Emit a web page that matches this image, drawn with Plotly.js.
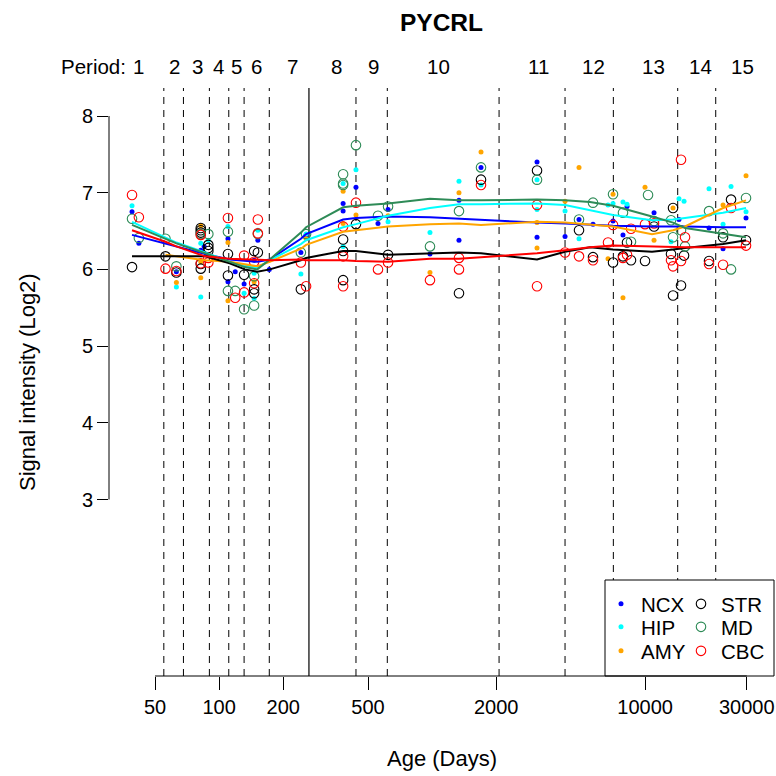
<!DOCTYPE html>
<html><head><meta charset="utf-8">
<script src="https://cdn.plot.ly/plotly-3.0.1.min.js"></script>
<style>body{margin:0;background:#fff}</style>
</head><body>
<div id="chart" style="width:776px;height:776px"></div>
<script>
// ---- data (age in days, signal intensity log2) ----
const regions = ['NCX','HIP','AMY','STR','MD','CBC'];
const ncxAge = [39,42,63,82,85,110,110,119,131,146,152,172,242,256,382,382,439,557,621,977,1337,1337,1696,3108,3108,4207,4893,5692,7068,7870,8222,11010,14420,19950,23215,29760];
const ncxVal = [6.75,6.34,5.97,6.25,6.30,6.40,5.84,5.97,5.81,6.12,6.38,6.00,6.22,6.45,6.86,6.76,7.07,6.60,6.78,6.20,6.90,6.38,7.33,7.40,6.42,6.43,6.65,6.59,6.63,6.45,6.82,6.74,6.65,6.54,6.27,6.67];
const hipAge = [39,63,82,82,89,110,131,146,146,152,242,256,382,382,439,621,977,1337,1696,3108,3108,4207,4893,6695,7068,7870,8222,13230,14420,15230,19950,23215,25310,29760];
const hipVal = [6.83,5.77,6.34,5.64,6.38,6.56,5.69,5.95,5.62,6.51,5.94,6.46,7.12,6.30,7.30,6.62,6.48,7.15,7.10,7.17,6.78,6.76,6.40,6.84,6.86,6.88,6.85,6.36,6.92,6.89,7.05,6.59,7.08,6.75];
const amyAge = [63,82,82,82,110,110,146,256,382,382,439,621,977,1337,1696,3108,3108,4207,4893,6695,7068,7870,9988,11010,13518,23215,29760];
const amyVal = [5.83,6.57,6.10,5.89,6.35,5.59,5.84,6.40,7.02,6.60,6.71,6.70,5.96,7.00,7.53,6.61,6.28,6.89,7.33,6.14,6.98,5.63,7.07,6.38,6.80,6.84,7.22];
const strAge = [39,56,63,82,82,82,82,82,89,89,89,110,110,131,146,146,146,152,242,382,382,382,439,621,1337,1696,3108,4893,5692,7068,7870,8222,8584,9988,11010,13230,13518,13518,14740,15230,19950,23215,25310,29760];
const strVal = [6.03,6.17,5.96,6.54,6.51,6.48,6.07,6.01,6.32,6.28,6.24,6.20,5.92,5.93,6.24,5.74,5.69,6.22,5.74,6.39,6.24,5.86,6.59,6.19,5.69,7.17,7.29,6.51,6.16,6.09,6.17,6.35,6.12,6.11,6.56,6.20,6.80,5.66,5.79,6.18,6.11,6.42,6.91,6.38];
const mdAge = [39,42,56,63,82,89,110,110,119,131,146,146,152,242,256,382,382,382,439,557,621,977,1337,1696,3108,4893,5692,7068,7870,8584,10318,11010,13230,13518,14740,15393,19950,23215,25310,29760];
const mdVal = [6.66,6.41,6.40,6.04,6.46,6.46,6.49,5.72,5.72,5.48,5.91,5.53,6.46,6.22,6.46,7.24,7.12,7.10,7.62,6.70,6.82,6.30,6.76,7.33,7.17,6.65,6.87,6.98,6.74,6.36,6.97,6.63,6.64,6.42,6.51,6.30,6.76,6.47,6.00,6.93];
const cbcAge = [39,42,56,63,82,82,89,89,110,119,131,131,146,146,152,152,242,256,382,382,382,439,557,621,977,1337,1337,1696,3108,3108,4207,4893,5692,6695,7068,7870,8222,8584,9988,11010,13230,13518,14740,14740,15393,19950,23215,25310,29760];
const cbcVal = [6.97,6.68,6.01,5.98,6.45,6.08,6.15,6.09,6.67,5.63,6.18,5.70,6.10,5.82,6.65,6.47,6.09,5.78,6.56,6.17,5.78,6.87,6.00,6.09,5.86,6.15,6.00,7.10,6.84,5.78,6.22,6.17,6.12,6.35,6.58,6.15,6.19,6.53,6.59,6.60,6.12,6.04,7.43,6.11,6.42,6.07,6.06,6.80,6.31];

// smoothed fits
const fitAges = [39,56,63,86,112,132,151,173,242,256,382,439,621,977,1337,1696,3108,4207,5512,7068,10773,13518,15393,23215,29760];
const ncxFit = [6.45,6.34,6.30,6.20,6.13,6.11,6.10,6.13,6.40,6.46,6.65,6.67,6.69,6.68,6.66,6.64,6.61,6.60,6.58,6.57,6.56,6.56,6.56,6.55,6.55];
const hipFit = [6.62,6.41,6.35,6.22,6.10,6.05,6.02,6.12,6.33,6.38,6.55,6.59,6.70,6.80,6.85,6.85,6.86,6.84,6.77,6.71,6.64,6.65,6.67,6.74,6.80];
const amyFit = [null,6.19,6.17,6.12,6.10,6.07,6.04,6.10,6.27,6.32,6.49,6.51,6.56,6.59,6.60,6.58,6.62,6.61,6.58,6.56,6.46,6.51,6.56,6.80,6.90];
const strFit = [6.17,6.17,6.17,6.17,6.08,6.00,5.97,6.00,6.12,6.15,6.24,6.24,6.19,6.21,6.22,6.21,6.13,6.23,6.29,6.26,6.23,6.26,6.28,6.33,6.38];
const mdFit  = [6.58,6.40,6.34,6.21,6.10,6.03,6.00,6.13,6.48,6.55,6.81,6.83,6.86,6.92,6.90,6.90,6.91,6.90,6.88,6.83,6.69,6.61,6.54,6.46,6.42];
const cbcFit = [6.51,6.36,6.30,6.17,6.14,6.13,6.12,6.12,6.13,6.12,6.12,6.11,6.10,6.14,6.14,6.16,6.21,6.25,6.29,6.31,6.30,6.29,6.29,6.29,6.29];

// periods
const periodBounds = [55,68,90,111,131,172,264,439,616,2062,4207,7092,14220,21450];
const birthAge = 264;
const periodLabels = ['1','2','3','4','5','6','7','8','9','10','11','12','13','14','15'];
const periodLabelAges = [42,61.5,79.3,99.1,121,150,220.6,356.5,529.6,1069,3150,5713,10928,18100,28600];

const xTicks = [50,100,200,500,2000,10000,30000];
const yTicks = [3,4,5,6,7,8];

// ---- styling ----
const FONT = 'Liberation Sans, Arial, Helvetica, sans-serif';
const colors = {NCX:'#0000FF', HIP:'#00FFFF', AMY:'#FFA500', STR:'#000000', MD:'#2E8B57', CBC:'#FF0000'};
const filled = {NCX:true, HIP:true, AMY:true, STR:false, MD:false, CBC:false};
const ages = {NCX:ncxAge, HIP:hipAge, AMY:amyAge, STR:strAge, MD:mdAge, CBC:cbcAge};
const vals = {NCX:ncxVal, HIP:hipVal, AMY:amyVal, STR:strVal, MD:mdVal, CBC:cbcVal};
const fits = {NCX:ncxFit, HIP:hipFit, AMY:amyFit, STR:strFit, MD:mdFit, CBC:cbcFit};
// legend slot: column (0/1) and row (0..2), like R legend with ncol = 2
const legendNames = ['legend','legend2','legend3','legend4','legend5','legend6'];
const legendCol = [0,0,0,1,1,1];
const legendRow = [0,1,2,0,1,2];

const traces = [];
regions.forEach((r,i) => {
  traces.push({
    x: ages[r], y: vals[r], type:'scatter', mode:'markers', name:r,
    legend: legendNames[i],
    marker: filled[r] ? {color:colors[r], size:5, symbol:'circle', line:{width:0}}
                      : {color:colors[r], size:9.5, symbol:'circle-open', line:{width:1.1, color:colors[r]}},
    hoverinfo:'skip'
  });
});
regions.forEach(r => {
  traces.push({x: fitAges, y: fits[r], type:'scatter', mode:'lines', showlegend:false,
    line:{color:colors[r], width:2}, hoverinfo:'skip'});
});

const shapes = [];
periodBounds.forEach(a => {
  const solid = a === birthAge;
  shapes.push({type:'line', xref:'x', yref:'paper', x0:a, x1:a, y0:0, y1:1, layer:'below',
    line:{color: solid ? '#333333' : '#000000', width: solid ? 1.5 : 1, dash: solid ? 'solid' : '7px,6px'}});
});
// legend box (white, covers period lines)
shapes.push({type:'rect', xref:'paper', yref:'paper', x0:(605-109)/665, x1:1, y0:0, y1:(676-580)/588,
  fillcolor:'#ffffff', line:{color:'#000', width:1}, layer:'below'});
// axis lines spanning first to last tick
shapes.push({type:'line', xref:'x', yref:'paper', x0:xTicks[0], x1:xTicks[xTicks.length-1], y0:0, y1:0, line:{color:'#000', width:1}});
shapes.push({type:'line', xref:'paper', yref:'y', x0:0, x1:0, y0:yTicks[0], y1:yTicks[yTicks.length-1], line:{color:'#000', width:1}});

const annotations = [];
const topY = 1 + (88-67)/588;
annotations.push({text:'Period:', xref:'paper', yref:'paper', x:(93-109)/665, y:topY, showarrow:false,
  xanchor:'center', yanchor:'middle', font:{family:FONT, size:20.5, color:'#000'}});
periodLabels.forEach((t,i) => {
  annotations.push({text:t, xref:'x', yref:'paper', x:Math.log10(periodLabelAges[i]), y:topY, showarrow:false,
    xanchor:'center', yanchor:'middle', font:{family:FONT, size:20.5, color:'#000'}});
});
annotations.push({text:'Age (Days)', xref:'paper', yref:'paper', x:0.5, y:-(759-676)/588, showarrow:false,
  xanchor:'center', yanchor:'middle', font:{family:FONT, size:22, color:'#000'}});
annotations.push({text:'Signal intensity (Log2)', xref:'paper', yref:'paper', x:(27-109)/665, y:0.5, showarrow:false,
  textangle:-90, xanchor:'center', yanchor:'middle', font:{family:FONT, size:22, color:'#000'}});

const layout = {
  width:776, height:776,
  margin:{l:109, r:2, t:88, b:100},
  paper_bgcolor:'#fff', plot_bgcolor:'#fff',
  font:{family:FONT, color:'#000', size:20},
  title:{text:'<b>PYCRL</b>', x:0.5, xref:'paper', y:1-22/776, yref:'container', xanchor:'center', yanchor:'middle',
    font:{family:FONT, size:24.5, color:'#000'}},
  xaxis:{type:'log', range:[1.483,4.605], tickmode:'array', tickvals:xTicks, ticktext:xTicks.map(String),
    ticks:'outside', ticklen:13, tickwidth:1, tickcolor:'#000', showgrid:false, zeroline:false, showline:false,
    tickfont:{family:FONT, size:20, color:'#000'}},
  yaxis:{range:[0.699,8.365], tickmode:'array', tickvals:yTicks, ticktext:yTicks.map(String),
    ticks:'outside', ticklen:11, tickwidth:1, tickcolor:'#000', showgrid:false, zeroline:false, showline:false,
    tickfont:{family:FONT, size:20, color:'#000'}},
  shapes:shapes, annotations:annotations, showlegend:true
};
const rowY = [604, 627, 651];
const colX = [601, 681];
legendNames.forEach((ln,i) => {
  layout[ln] = {x:(colX[legendCol[i]]-109)/665, y:(676-rowY[legendRow[i]])/588, xanchor:'left', yanchor:'middle',
    bgcolor:'rgba(0,0,0,0)', font:{family:FONT, size:20.5, color:'#000'}, itemwidth:30};
});
Plotly.newPlot('chart', traces, layout, {staticPlot:true, displayModeBar:false});
</script>
</body></html>
